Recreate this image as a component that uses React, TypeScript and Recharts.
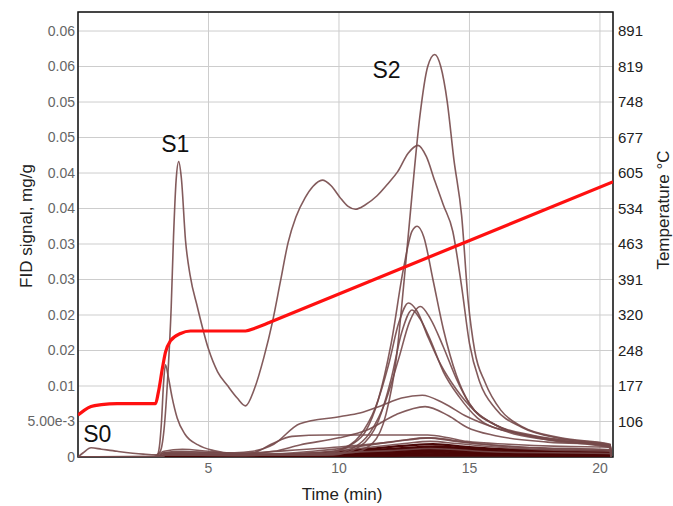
import React from 'react';
import { LineChart, Line, XAxis, YAxis, CartesianGrid, ReferenceArea, ReferenceDot } from 'recharts';

const FONT = '"Liberation Sans", Arial, Helvetica, sans-serif';

// ---- axes ----
const xTicks = [5, 10, 15, 20];
const X_MAX = 20.5;
const fidTicks = [0, 0.005, 0.01, 0.015, 0.02, 0.025, 0.03, 0.035, 0.04, 0.045, 0.05, 0.055, 0.06];
const fidTickLabels = ['0', '5.00e-3', '0.01', '0.02', '0.02', '0.03', '0.03', '0.04', '0.04', '0.05', '0.05', '0.06', '0.06'];
const FID_MAX = 0.06268;
const T_MIN = 34.68;
const T_STEP = 71.36;
const tempTickLabels = ['106', '177', '248', '320', '391', '463', '534', '605', '677', '748', '819', '891'];
const tempTicks = tempTickLabels.map((_, i) => T_MIN + (i + 1) * T_STEP);
const T_MAX = T_MIN + (FID_MAX / 0.005) * T_STEP;

// ---- FID curves: [time (min), signal (mg/g)] ----
const curveA: [number, number][] = [
  [0, 0], [2.9, 0.0001], [3.15, 0.0008], [3.3, 0.004], [3.45, 0.012], [3.57, 0.021], [3.66, 0.031], [3.76, 0.039],
  [3.86, 0.0416], [3.96, 0.0393], [4.12, 0.0305], [4.3, 0.0255], [4.57, 0.0212], [5.0, 0.0152], [5.35, 0.012],
  [5.72, 0.0101], [6.1, 0.0083], [6.42, 0.0072], [6.75, 0.0095], [7.12, 0.014], [7.45, 0.019], [7.76, 0.0248],
  [8.05, 0.0302], [8.35, 0.0338], [8.7, 0.0365], [9.0, 0.0381], [9.36, 0.039], [9.7, 0.0382], [10.03, 0.0366],
  [10.35, 0.0353], [10.63, 0.0349], [11.0, 0.0355], [11.46, 0.0368], [11.9, 0.0386], [12.25, 0.0402], [12.65, 0.0428],
  [13.03, 0.0439], [13.35, 0.0423], [13.67, 0.0389], [14.0, 0.0355], [14.36, 0.0318], [14.7, 0.024], [15.0, 0.016],
  [15.4, 0.0105], [16.0, 0.0068], [17.0, 0.0042], [18.5, 0.0026], [20.4, 0.0017], [20.42, 0],
];
const curveB: [number, number][] = [
  [0, 0], [3.1, 0], [3.4, 0.0005], [5, 0.0004], [8, 0.0003], [10.5, 0.0006], [11.3, 0.002], [11.8, 0.006], [12.2, 0.014],
  [12.5, 0.025], [12.8, 0.037], [13.1, 0.048], [13.4, 0.055], [13.67, 0.0567], [13.9, 0.055], [14.15, 0.05],
  [14.4, 0.042], [14.7, 0.034], [14.95, 0.022], [15.2, 0.015], [15.6, 0.0105], [16.2, 0.0066], [17.0, 0.0043],
  [18.5, 0.0027], [20.4, 0.0018], [20.42, 0],
];
const curveC: [number, number][] = [
  [0, 0], [3.1, 0], [3.4, 0.0004], [6, 0.0003], [9.5, 0.0005], [10.5, 0.0018], [11.0, 0.0035], [11.5, 0.008],
  [12.0, 0.016], [12.48, 0.0267], [12.8, 0.0318], [13.0, 0.0325], [13.25, 0.031], [13.6, 0.025], [14.0, 0.018],
  [14.5, 0.0115], [15.0, 0.0075], [16.0, 0.0045], [18.0, 0.0025], [20.4, 0.0016], [20.42, 0],
];
const curveD: [number, number][] = [
  [0, 0], [3.1, 0], [3.4, 0.0003], [9.0, 0.0003], [10.0, 0.001], [10.8, 0.003], [11.4, 0.007], [11.9, 0.013],
  [12.3, 0.019], [12.66, 0.0217], [13.0, 0.0205], [13.4, 0.017], [13.9, 0.013], [14.5, 0.0095], [15.2, 0.0065],
  [16.0, 0.0045], [17.5, 0.003], [20.4, 0.0015], [20.42, 0],
];
const curveE: [number, number][] = [
  [0, 0], [3.1, 0], [3.4, 0.0003], [9.5, 0.0003], [10.5, 0.0012], [11.2, 0.0035], [11.8, 0.008], [12.3, 0.014],
  [12.7, 0.019], [13.12, 0.0212], [13.5, 0.0195], [14.0, 0.0155], [14.5, 0.011], [15.0, 0.0075], [16.0, 0.0045],
  [17.5, 0.0028], [20.4, 0.0014], [20.42, 0],
];
const curveF: [number, number][] = [
  [0, 0], [3.1, 0], [3.4, 0.0003], [9.8, 0.0003], [10.8, 0.0015], [11.5, 0.005], [12.0, 0.011], [12.4, 0.0175],
  [12.8, 0.0207], [13.1, 0.0195], [13.5, 0.0165], [14.0, 0.012], [14.6, 0.0085], [15.3, 0.0055], [16.5, 0.0035],
  [18.0, 0.0024], [20.4, 0.0013], [20.42, 0],
];
const curveG: [number, number][] = [
  [0, 0], [3.0, 0], [3.3, 0.0006], [4.0, 0.0008], [5.0, 0.0006], [6.0, 0.0006], [6.7, 0.0008], [7.5, 0.0018],
  [8.5, 0.0047], [10.06, 0.0057], [10.8, 0.0062], [11.6, 0.0072], [12.4, 0.0083], [13.19, 0.0087], [14.0, 0.0076],
  [14.9, 0.0057], [16.0, 0.0041], [17.5, 0.0029], [19.0, 0.0021], [20.4, 0.0016], [20.42, 0],
];
const curveH: [number, number][] = [
  [0, 0], [3.0, 0], [3.3, 0.0005], [4.0, 0.0006], [6.0, 0.0004], [7.5, 0.0008], [8.5, 0.0017], [10.0, 0.0027],
  [11.08, 0.0038], [12.2, 0.006], [13.3, 0.0071], [14.2, 0.0058], [14.9, 0.0042], [16.0, 0.003], [18.0, 0.0021],
  [20.4, 0.0017], [20.42, 0],
];
const curveI: [number, number][] = [
  [0, 0], [3.0, 0], [3.3, 0.0006], [4.5, 0.0007], [6.0, 0.0005], [6.7, 0.0006], [7.4, 0.0018], [8.2, 0.0029],
  [9.5, 0.0031], [11.0, 0.0031], [12.5, 0.0031], [13.4, 0.0031], [14.2, 0.0027], [14.9, 0.0022], [16.5, 0.0018],
  [18.5, 0.0015], [20.4, 0.0014], [20.42, 0],
];
const curveS1b: [number, number][] = [
  [0, 0], [3.0, 0], [3.1, 0.001], [3.2, 0.005], [3.28, 0.0105], [3.35, 0.013], [3.45, 0.0115], [3.6, 0.0085],
  [3.8, 0.0055], [4.1, 0.0032], [4.6, 0.0017], [5.2, 0.0009], [6.0, 0.0005], [8.0, 0.0004], [10.0, 0.0006],
  [12.0, 0.0009], [13.5, 0.0012], [16.0, 0.0007], [20.4, 0.0005], [20.42, 0],
];
const curveS0: [number, number][] = [
  [0, 0], [0.2, 0.0006], [0.5, 0.0013], [0.9, 0.0011], [1.5, 0.0008], [2.5, 0.0004], [3.0, 0.0003], [3.3, 0.0008],
  [4.0, 0.0011], [5.0, 0.0008], [6.0, 0.0005], [8.0, 0.0009], [10.0, 0.0014], [12.0, 0.0021], [13.5, 0.0027],
  [15.0, 0.002], [17.0, 0.0014], [20.4, 0.001], [20.42, 0],
];
const curveJ: [number, number][] = [
  [0, 0], [3.1, 0], [3.4, 0.0004], [6.0, 0.0003], [9.0, 0.0008], [11.0, 0.0016], [12.5, 0.0024], [13.4, 0.0027],
  [14.5, 0.0022], [16.0, 0.0016], [18.0, 0.0012], [20.4, 0.001], [20.42, 0],
];
const curveK: [number, number][] = [
  [0, 0], [3.1, 0], [3.4, 0.0003], [6.0, 0.0002], [9.0, 0.0006], [11.0, 0.0013], [12.5, 0.0019], [13.5, 0.0022],
  [14.5, 0.0019], [16.0, 0.0014], [18.0, 0.001], [20.4, 0.0008], [20.42, 0],
];
// dense low-signal samples near the baseline
const lowM1: [number, number][] = [[0, 0], [3.2, 0], [3.6, 0.0003], [6, 0.0002], [9, 0.0005], [11, 0.0011], [12.6, 0.0016], [13.6, 0.0018], [15, 0.0014], [17, 0.001], [20.4, 0.0008], [20.42, 0]];
const lowM2: [number, number][] = [[0, 0], [3.2, 0], [3.6, 0.0002], [6, 0.0002], [9, 0.0004], [11, 0.0009], [12.6, 0.0013], [13.7, 0.0015], [15, 0.0012], [17, 0.0009], [20.4, 0.0007], [20.42, 0]];
const lowM3: [number, number][] = [[0, 0], [3.2, 0], [3.6, 0.0002], [6, 0.0002], [9, 0.0003], [11, 0.0007], [12.6, 0.0011], [13.7, 0.0013], [15, 0.001], [17, 0.0007], [20.4, 0.0006], [20.42, 0]];
const lowM4: [number, number][] = [[0, 0], [3.2, 0], [3.6, 0.0001], [6, 0.0001], [9, 0.0002], [11, 0.0005], [12.6, 0.0009], [13.7, 0.001], [15, 0.0008], [17, 0.0006], [20.4, 0.0005], [20.42, 0]];
const lowM5: [number, number][] = [[0, 0], [3.2, 0], [3.6, 0.0001], [6, 0.0001], [9, 0.0002], [11, 0.0004], [12.6, 0.0007], [13.7, 0.0008], [15, 0.0006], [17, 0.0004], [20.4, 0.0004], [20.42, 0]];
const lowM6: [number, number][] = [[0, 0], [3.2, 0], [6, 0.0001], [9, 0.0001], [11, 0.0003], [12.6, 0.0005], [13.7, 0.0006], [15, 0.0004], [17, 0.0003], [20.4, 0.0003], [20.42, 0]];
const lowM7: [number, number][] = [[0, 0], [3.2, 0], [9, 0.0001], [11, 0.0002], [12.6, 0.0003], [13.7, 0.0004], [15, 0.0003], [20.4, 0.0002], [20.42, 0]];
const lowM8: [number, number][] = [[0, 0], [3.2, 0], [9, 0.0001], [11, 0.0001], [12.6, 0.0002], [13.7, 0.0002], [15, 0.0002], [20.4, 0.0001], [20.42, 0]];

// ---- oven temperature (°C) ----
const tempCurve: [number, number][] = [
  [0, 119], [0.25, 129], [0.5, 136], [0.9, 140], [1.5, 142], [2.97, 142], [3.08, 165], [3.24, 215], [3.35, 245],
  [3.54, 268], [3.93, 283], [4.31, 288], [6.42, 288], [6.8, 294], [7.1, 300], [7.375, 306], [20.5, 588],
];

const toPts = (arr: [number, number][]) => arr.map(([t, v]) => ({ t, v }));

const brownSeries = [curveA, curveB, curveC, curveD, curveE, curveF, curveG, curveH, curveI, curveS1b, curveS0, curveJ, curveK];
const darkSeries = [lowM1, lowM2, lowM3, lowM4, lowM5, lowM6, lowM7, lowM8];

const peakLabels: { text: string; t: number; v: number }[] = [
  { text: 'S0', t: 0.74, v: 0.00324 },
  { text: 'S1', t: 3.73, v: 0.0441 },
  { text: 'S2', t: 11.82, v: 0.0545 },
];

export default function App() {
  return (
    <div style={{ width: 673, height: 506 }}>
      <style>{'html,body{margin:0;padding:0;overflow:hidden;}'}</style>
      <LineChart width={673} height={506} margin={{ top: 12, right: 0, bottom: 0, left: 0 }}>
        <CartesianGrid yAxisId="fid" stroke="#cdcdcd" strokeWidth={1} />
        <XAxis
          type="number"
          dataKey="t"
          domain={[0, X_MAX]}
          ticks={xTicks}
          allowDataOverflow
          height={49}
          axisLine={false}
          tickLine={false}
          tickSize={6}
          tickMargin={0}
          tick={{ fontSize: 14, fill: '#666', fontFamily: FONT }}
          label={{
            content: () => (
              <text x={342} y={494} textAnchor="middle" dominantBaseline="central" fontSize={17} fill="#222" fontFamily={FONT}>
                Time (min)
              </text>
            ),
          }}
        />
        <YAxis
          yAxisId="fid"
          type="number"
          domain={[0, FID_MAX]}
          ticks={fidTicks}
          allowDataOverflow
          width={78}
          axisLine={false}
          tickLine={false}
          tickSize={3}
          tickMargin={0}
          interval={0}
          tickFormatter={(_v: number, i: number) => fidTickLabels[i]}
          tick={{ fontSize: 14, fill: '#666', fontFamily: FONT }}
          label={{
            content: () => (
              <text transform="translate(26,226) rotate(-90)" textAnchor="middle" dominantBaseline="central" fontSize={17} fill="#222" fontFamily={FONT}>
                FID signal, mg/g
              </text>
            ),
          }}
        />
        <YAxis
          yAxisId="temp"
          orientation="right"
          type="number"
          domain={[T_MIN, T_MAX]}
          ticks={tempTicks}
          allowDataOverflow
          width={60}
          axisLine={false}
          tickLine={false}
          tickSize={5}
          tickMargin={0}
          interval={0}
          tickFormatter={(_v: number, i: number) => tempTickLabels[i]}
          tick={{ fontSize: 15, fill: '#222', fontFamily: FONT }}
          label={{
            content: () => (
              <text transform="translate(663,210) rotate(-90)" textAnchor="middle" dominantBaseline="central" fontSize={17} fill="#222" fontFamily={FONT}>
                Temperature °C
              </text>
            ),
          }}
        />
        {darkSeries.map((s, i) => (
          <Line
            key={'d' + i}
            yAxisId="fid"
            data={toPts(s)}
            dataKey="v"
            type="monotone"
            stroke="#4a0606"
            strokeWidth={2.2}
            dot={false}
            activeDot={false}
            isAnimationActive={false}
          />
        ))}
        {brownSeries.map((s, i) => (
          <Line
            key={'b' + i}
            yAxisId="fid"
            data={toPts(s)}
            dataKey="v"
            type="monotone"
            stroke="#75494a"
            strokeOpacity={0.9}
            strokeWidth={1.6}
            dot={false}
            activeDot={false}
            isAnimationActive={false}
          />
        ))}
        <Line
          yAxisId="temp"
          data={toPts(tempCurve)}
          dataKey="v"
          type="monotone"
          stroke="#ff1010"
          strokeWidth={3.2}
          dot={false}
          activeDot={false}
          isAnimationActive={false}
        />
        <ReferenceArea yAxisId="fid" x1={0} x2={X_MAX} y1={0} y2={FID_MAX} fill="none" stroke="#111" strokeWidth={1.5} fillOpacity={0} />
        {peakLabels.map((p) => (
          <ReferenceDot
            key={p.text}
            yAxisId="fid"
            x={p.t}
            y={p.v}
            r={1}
            fill="none"
            stroke="none"
            label={{ value: p.text, position: 'center', fontSize: 23, fill: '#111', fontFamily: FONT }}
          />
        ))}
      </LineChart>
    </div>
  );
}
